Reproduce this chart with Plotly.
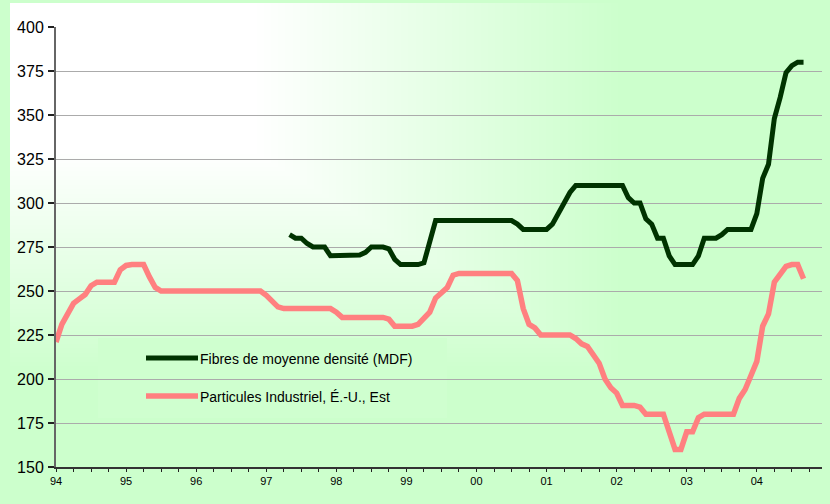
import base64, struct, zlib
import numpy as np
import plotly.graph_objects as go

# ---------------- data (monthly, Jan 1994 = month 0) ----------------
year_labels = ["94", "95", "96", "97", "98", "99", "00", "01", "02", "03", "04"]

particules = [
    221, 231, 237, 243, 245.5, 248, 253, 255, 255, 255, 255, 262,
    264.5, 265, 265, 265, 258, 252, 250, 250, 250, 250, 250, 250,
    250, 250, 250, 250, 250, 250, 250, 250, 250, 250, 250, 250,
    247.5, 244, 241, 240, 240, 240, 240, 240, 240, 240, 240, 240,
    238, 235, 235, 235, 235, 235, 235, 235, 235, 234, 230, 230,
    230, 230, 231, 234.5, 238, 246, 249, 252, 259, 260, 260, 260,
    260, 260, 260, 260, 260, 260, 260, 256, 240, 231, 229, 225,
    225, 225, 225, 225, 225, 223, 220, 218.5, 214, 209, 200, 195,
    192, 185, 185, 185, 184, 180, 180, 180, 180, 170, 160, 160,
    170, 170, 178, 180, 180, 180, 180, 180, 180, 189, 194, 202,
    210, 230, 237, 255, 259, 264, 265, 265, 257,
]

mdf_start_month = 40
mdf = [
    282, 280, 280, 277, 275, 275, 275, 270,
    270, 270, 270, 270, 270.5, 272, 275, 275, 275, 274, 268, 265,
    265, 265, 265, 266, 278, 290, 290, 290, 290, 290, 290, 290,
    290, 290, 290, 290, 290, 290, 290, 288, 285, 285, 285, 285,
    285, 288, 294, 299, 306, 310, 310, 310, 310, 310, 310, 310,
    310, 310, 303, 300, 300, 291, 288, 280, 280, 270, 265, 265,
    265, 265, 270, 280, 280, 280, 282, 285, 285, 285, 285, 285,
    294, 314, 322, 348, 360, 374, 378, 380, 380,
]

name_mdf = "Fibres de moyenne densité (MDF)"
name_part = "Particules Industriel, É.-U., Est"

x_part = np.arange(len(particules)) / 12.0
x_mdf = (np.arange(len(mdf)) + mdf_start_month) / 12.0

# ---------------- layout geometry ----------------
W, H = 830, 504
L, R, T, B = 56, 822, 27, 467
X_MAX = 10.93


def px(x):
    return (x - L) / (R - L)


def py(y):
    return (B - y) / (B - T)


# ---------------- background gradient image ----------------
def png_data_uri(rgb):
    h, w, _ = rgb.shape
    raw = b"".join(b"\x00" + rgb[i].tobytes() for i in range(h))

    def chunk(tag, data):
        c = struct.pack(">I", len(data)) + tag + data
        return c + struct.pack(">I", zlib.crc32(tag + data) & 0xFFFFFFFF)

    png = (b"\x89PNG\r\n\x1a\n"
           + chunk(b"IHDR", struct.pack(">IIBBBBB", w, h, 8, 2, 0, 0, 0))
           + chunk(b"IDAT", zlib.compress(raw, 9))
           + chunk(b"IEND", b""))
    return "data:image/png;base64," + base64.b64encode(png).decode()


yy, xx = np.mgrid[0:H, 0:W]
t = np.maximum((xx - 10) / 820.0, (yy - 3) / 501.0)
f = np.clip((t - 0.3) / 0.45, 0, 1)
f[(xx < 10) | (yy < 3)] = 1.0
rb = (255 - 51 * f).astype(np.uint8)
img = np.stack([rb, np.full_like(rb, 255), rb], axis=-1)
bg_uri = png_data_uri(img)

# ---------------- figure ----------------
fig = go.Figure()
fig.add_trace(go.Scatter(x=x_mdf, y=mdf, mode="lines", name=name_mdf,
                         line=dict(color="#003300", width=5), showlegend=False))
fig.add_trace(go.Scatter(x=x_part, y=particules, mode="lines", name=name_part,
                         line=dict(color="#FF8080", width=5.5), showlegend=False))

tickvals_x = [q / 4 for q in range(0, 44)]
ticktext_x = [year_labels[q // 4] if q % 4 == 0 else "" for q in range(0, 44)]
yticks = list(range(150, 401, 25))

sans = "Liberation Sans, Arial, sans-serif"

fig.update_layout(
    width=W, height=H,
    margin=dict(l=L, r=W - R, t=T, b=H - B, pad=0, autoexpand=False),
    paper_bgcolor="#CCFFCC",
    plot_bgcolor="rgba(0,0,0,0)",
    showlegend=False,
    xaxis=dict(range=[0, X_MAX], tickmode="array", tickvals=tickvals_x, ticktext=ticktext_x,
               ticks="outside", ticklen=3, tickwidth=1.3, tickcolor="#222",
               showline=True, linecolor="#333", linewidth=2, showgrid=False, zeroline=False,
               tickfont=dict(family=sans, size=11, color="#000")),
    xaxis2=dict(range=[0, X_MAX], overlaying="x", anchor="y", tickmode="array",
                tickvals=tickvals_x, ticks="inside", ticklen=3, tickwidth=1.3, tickcolor="#222",
                showticklabels=False, showgrid=False, showline=False, zeroline=False, side="bottom"),
    yaxis=dict(range=[150, 400], tickmode="array", tickvals=yticks,
               ticks="outside", ticklen=6, tickwidth=1.5, tickcolor="#222",
               showline=True, linecolor="#666", linewidth=2, zeroline=False,
               showgrid=True, gridcolor="#ABABAB", gridwidth=1,
               ticklabelstandoff=1,
               tickfont=dict(family=sans, size=16, color="#000")),
    yaxis2=dict(range=[150, 400], overlaying="y", anchor="x", tickmode="array", tickvals=yticks,
                ticks="inside", ticklen=6, tickwidth=1.5, tickcolor="#222",
                showticklabels=False, showgrid=False, showline=False, zeroline=False, side="left"),
    images=[dict(source=bg_uri, xref="paper", yref="paper", x=px(0), y=py(0),
                 sizex=W / (R - L), sizey=H / (B - T), xanchor="left", yanchor="top",
                 sizing="stretch", layer="below")],
)

# legend box (hides gridlines) + custom legend entries
shapes = [
    dict(type="rect", xref="paper", yref="paper", x0=px(98), x1=px(447), y0=py(418), y1=py(338),
         fillcolor="#CFFFCF", line=dict(width=0), layer="between"),
    dict(type="line", xref="paper", yref="paper", x0=px(146), x1=px(198), y0=py(358), y1=py(358),
         line=dict(color="#003300", width=5)),
    dict(type="line", xref="paper", yref="paper", x0=px(146), x1=px(198), y0=py(396), y1=py(396),
         line=dict(color="#FF8080", width=5.5)),
]
annotations = [
    dict(text=name_mdf, xref="paper", yref="paper", x=px(198), y=py(359), xanchor="left",
         yanchor="middle", showarrow=False, font=dict(family=sans, size=14, color="#000")),
    dict(text=name_part, xref="paper", yref="paper", x=px(198), y=py(397), xanchor="left",
         yanchor="middle", showarrow=False, font=dict(family=sans, size=14, color="#000")),
]
fig.update_layout(shapes=shapes, annotations=annotations)

fig.write_html("out.html", config={"displayModeBar": False},
               post_script="document.body.style.margin='0';document.body.style.overflow='hidden';")
